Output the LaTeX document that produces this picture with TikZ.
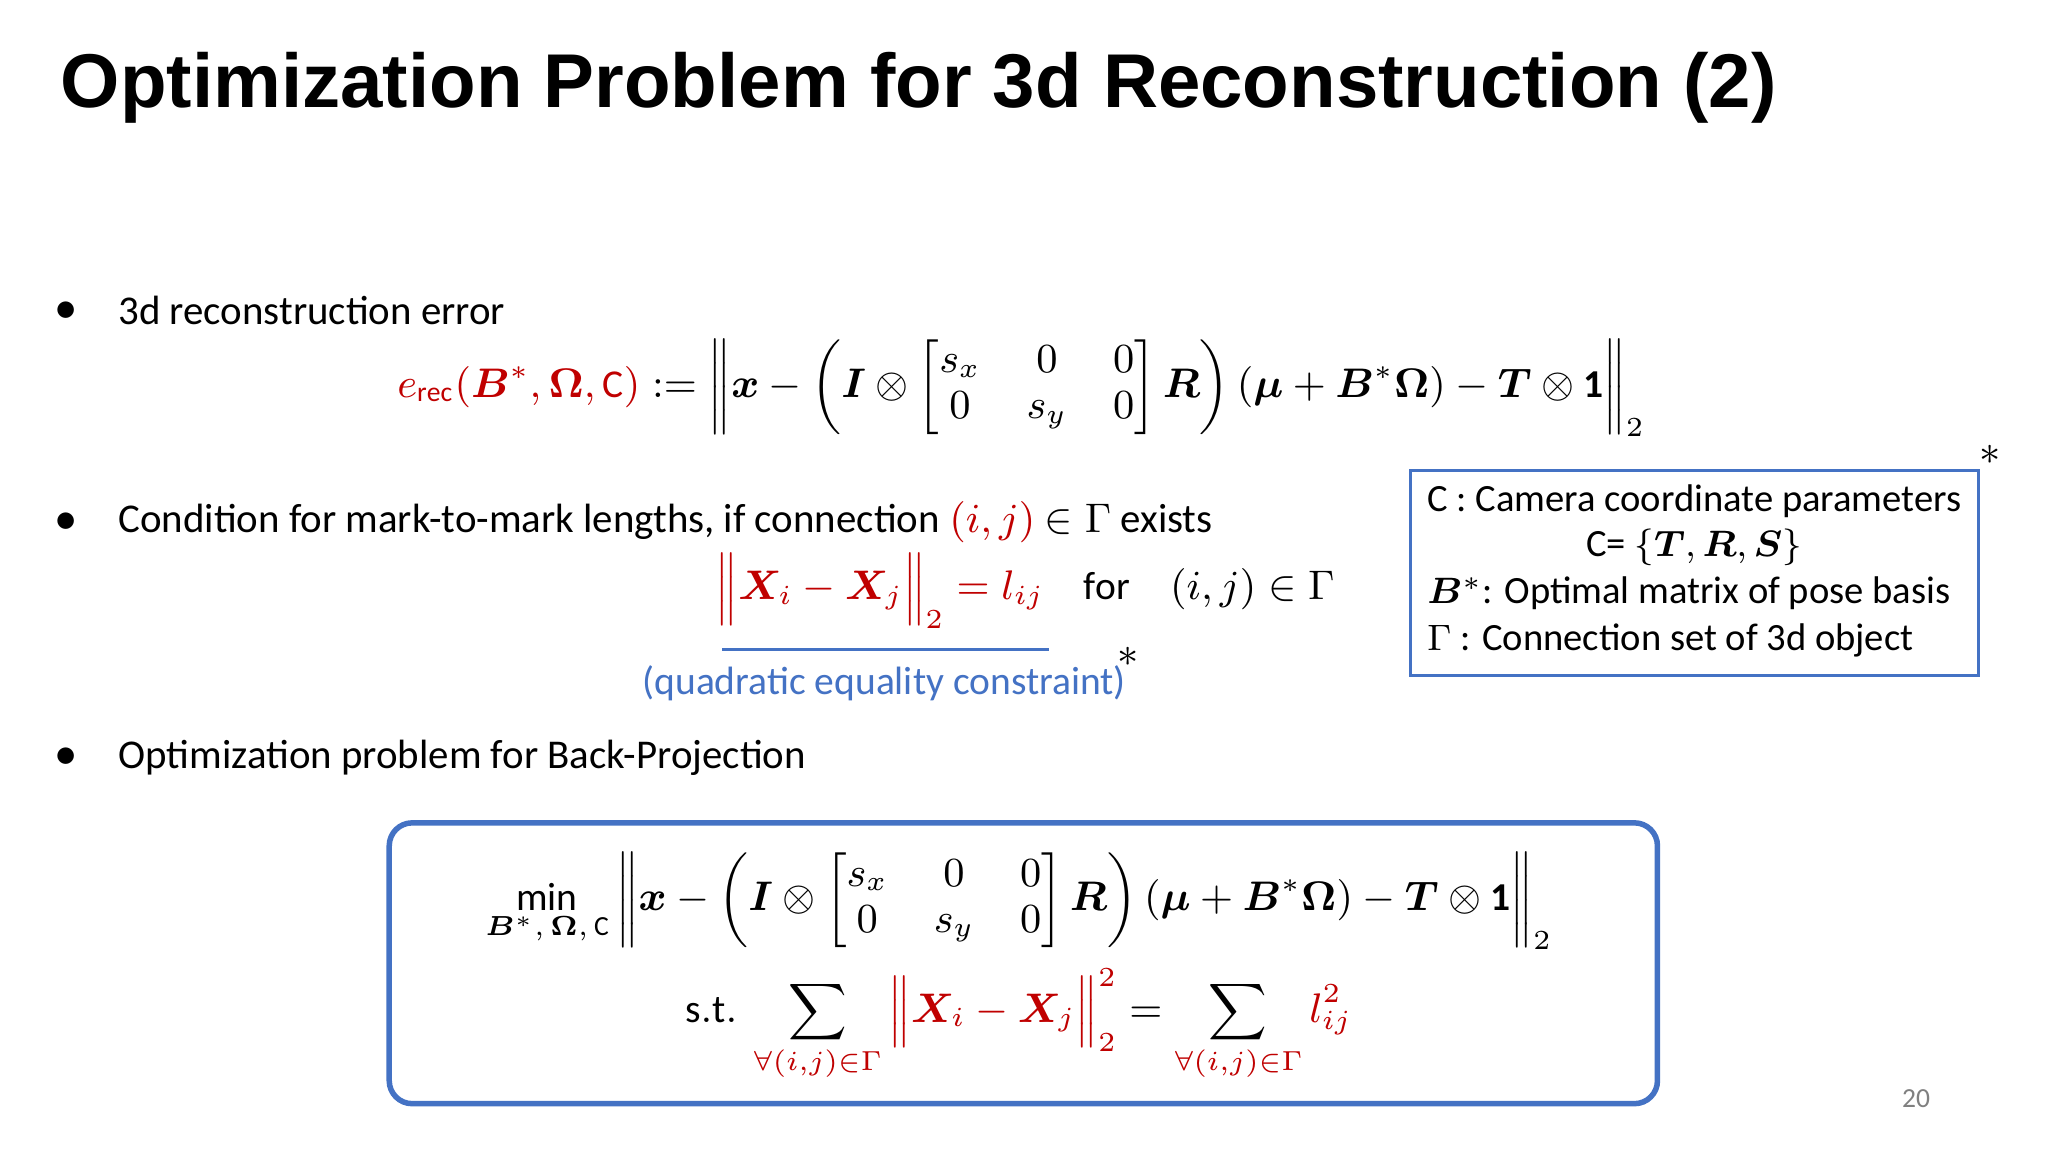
\documentclass[tikz,border=0pt]{standalone}
\usepackage{amsmath,amssymb,bm}
\usepackage{fontspec}
\setmainfont{Carlito}
\newfontfamily\titlefont{Liberation Sans}
\definecolor{myred}{RGB}{192,0,0}
\definecolor{myblue}{RGB}{68,114,196}
\tikzset{body/.style={anchor=west,inner sep=0pt,font=\fontsize{8.9}{11}\selectfont},
 mth/.style={inner sep=0pt,font=\fontsize{8.6}{10}\selectfont},
 bul/.style={inner sep=0pt,font=\fontsize{9}{11}\selectfont}}
\begin{document}
\begin{tikzpicture}[x=0.01cm,y=-0.01cm]
\useasboundingbox[fill=white] (0,0) rectangle (1568,882);
\node[anchor=west,inner sep=0pt,font=\titlefont\bfseries\fontsize{16.6}{20}\selectfont] (title) at (46,67) {Optimization Problem for 3d Reconstruction (2)};
\node[bul] (b1) at (51,238) {$\bullet$};
\node[body] (t1) at (90,238) {3d reconstruction error};
\node[mth] (e1) at (782,297) {$\textcolor{myred}{e_{\mathrm{rec}}(\bm{B}^*,\bm{\Omega},\mathrm{C})}\mathrel{:=}\left\|\bm{x}-\left(\bm{I}\otimes\begin{bmatrix}s_x&0&0\\0&s_y&0\end{bmatrix}\bm{R}\right)(\bm{\mu}+\bm{B}^*\bm{\Omega})-\bm{T}\otimes\mathbf{1}\right\|_2$};
\node[bul] (b2) at (51,400) {$\bullet$};
\node[body] (t2) at (90,400) {Condition for mark-to-mark lengths, if connection \textcolor{myred}{$(i,j)$} $\in\Gamma$ exists};
\node[mth] (e2) at (785,452) {$\textcolor{myred}{\Big\|\bm{X}_i-\bm{X}_j\Big\|_2=l_{ij}}\quad\mathrm{for}\quad(i,j)\in\Gamma$};
\coordinate (l1) at (553,497); \coordinate (l2) at (803,497);
\draw[myblue,line width=0.6pt] (l1) -- (l2);
\node[body,anchor=center,text=myblue,font=\fontsize{8.6}{10}\selectfont] (q) at (677,523) {(quadratic equality constraint)};
\node[bul] (s1) at (864,503) {$*$};
\node[bul] (b3) at (51,580) {$\bullet$};
\node[body] (t3) at (90,580) {Optimization problem for Back-Projection};
\draw[myblue,line width=0.6pt] (1080,360) rectangle (1515,517);
\node[bul] (s2) at (1524,348) {$*$};
\node[body,font=\fontsize{8.4}{10}\selectfont] (c1) at (1092,384) {C : Camera coordinate parameters};
\node[body,anchor=center,font=\fontsize{8.4}{10}\selectfont] (c2) at (1297,419) {C= $\{\bm{T},\bm{R},\bm{S}\}$};
\node[body,font=\fontsize{8.4}{10}\selectfont] (c3) at (1092,454) {$\bm{B}^*$: Optimal matrix of pose basis};
\node[body,font=\fontsize{8.4}{10}\selectfont] (c4) at (1092,490) {$\Gamma$ : Connection set of 3d object};
\draw[myblue,line width=1.2pt,rounded corners=5pt] (298,630) rectangle (1269,845);
\node[mth] (m1) at (780,690) {$\min\limits_{\bm{B}^*,\,\bm{\Omega},\,\mathrm{C}}\left\|\bm{x}-\left(\bm{I}\otimes\begin{bmatrix}s_x&0&0\\0&s_y&0\end{bmatrix}\bm{R}\right)(\bm{\mu}+\bm{B}^*\bm{\Omega})-\bm{T}\otimes\mathbf{1}\right\|_2$};
\node[mth] (m2) at (780,785) {$\mathrm{s.t.}\ \displaystyle\sum_{\textcolor{myred}{\forall(i,j)\in\Gamma}}\textcolor{myred}{\Big\|\bm{X}_i-\bm{X}_j\Big\|_2^2}=\sum_{\textcolor{myred}{\forall(i,j)\in\Gamma}}\textcolor{myred}{l_{ij}^2}$};
\node[inner sep=0pt,text=gray,font=\fontsize{6}{7}\selectfont] (pg) at (1467,841) {20};
\end{tikzpicture}
\end{document}
